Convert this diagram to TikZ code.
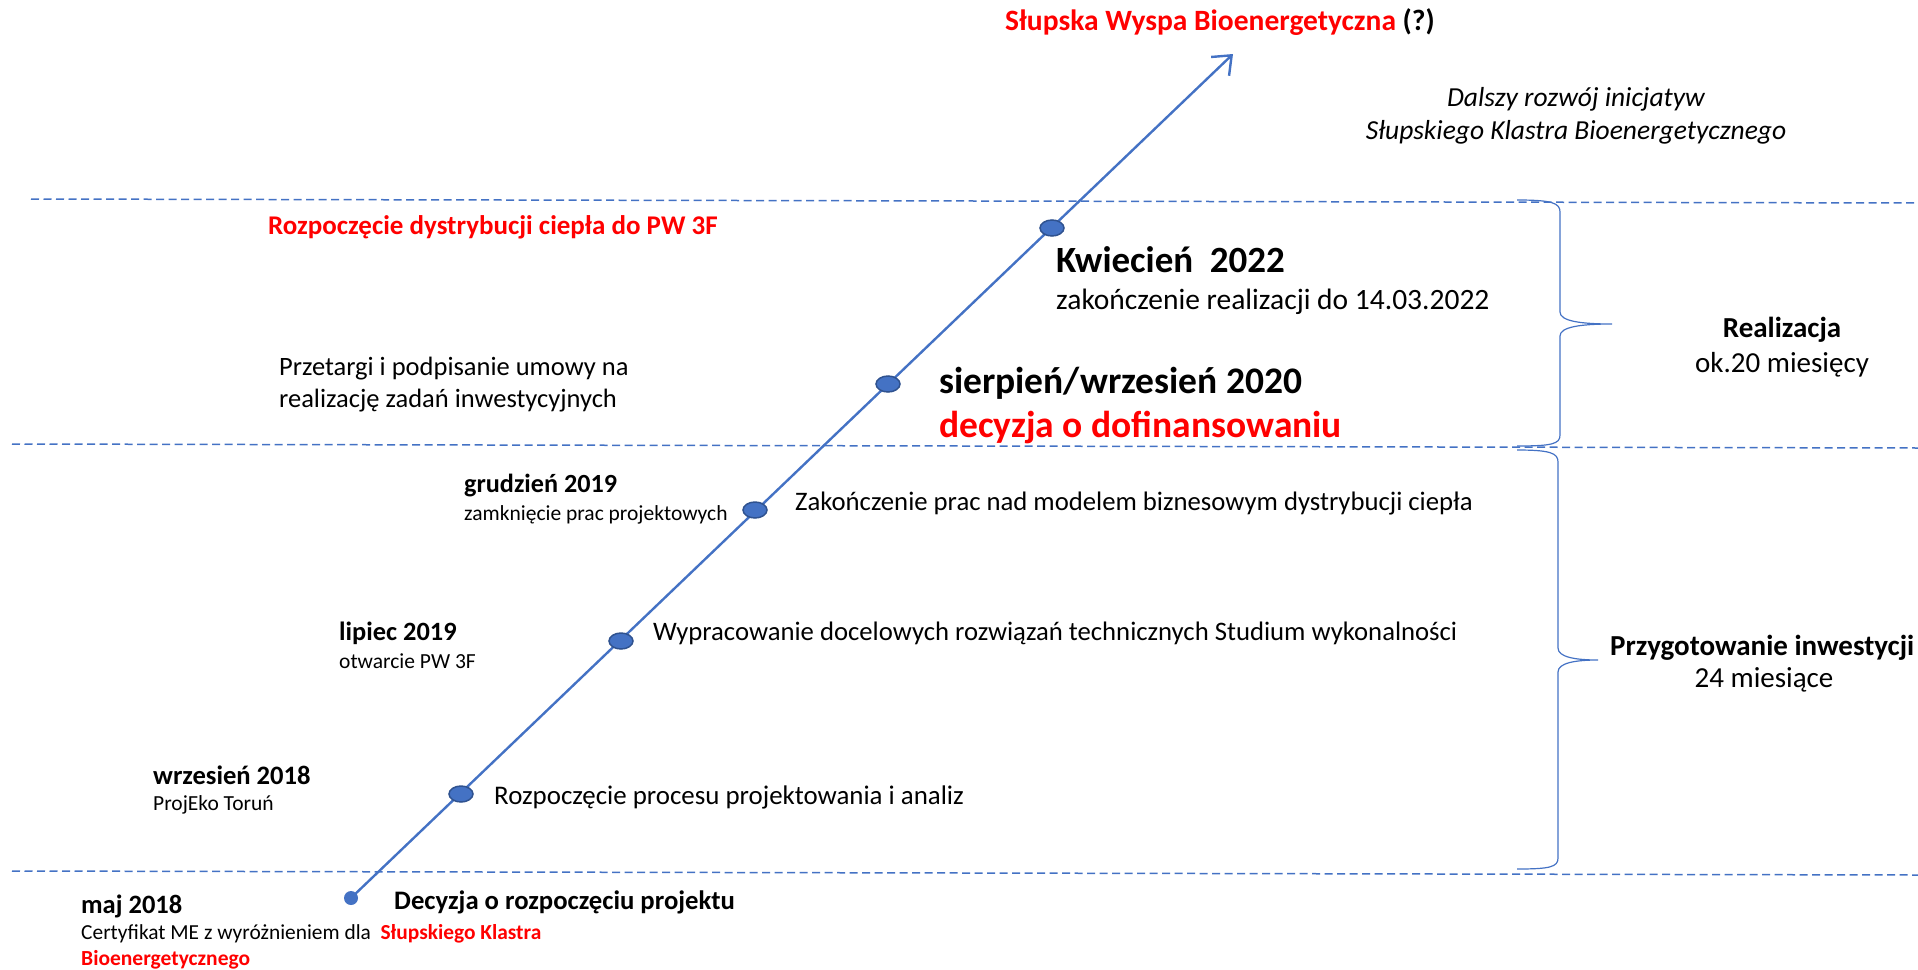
\documentclass[tikz,border=0pt]{standalone}
\usepackage{fontspec}
\setmainfont{Carlito}
\usetikzlibrary{arrows.meta,shapes.geometric}
\definecolor{blu}{HTML}{4472C4}
\definecolor{blud}{HTML}{2F528F}
\definecolor{rd}{HTML}{FF0000}
\newcommand{\fs}[1]{\fontsize{#1}{#1}\selectfont}
\tikzset{
  txt/.style={inner sep=0pt, anchor=base west},
  ctxt/.style={inner sep=0pt, anchor=base},
  tline/.style={draw=blu, line width=2.4pt},
  dotnode/.style={ellipse, draw=blud, fill=blu, line width=1.5pt, minimum width=24pt, minimum height=16pt, inner sep=0pt},
  startdot/.style={circle, fill=blu, minimum size=14pt, inner sep=0pt},
  sep/.style={draw=blu, line width=1.5pt, dash pattern=on 8pt off 4.5pt},
  brace/.style={draw=blu, line width=1.2pt}
}
\begin{document}
\begin{tikzpicture}[x=1pt,y=-1pt]
\useasboundingbox (0,0) rectangle (1918,969);
% separators
\coordinate (l1a) at (31,199); \coordinate (l1b) at (1918,203);
\coordinate (l2a) at (12,444); \coordinate (l2b) at (1918,448);
\coordinate (l3a) at (12,871); \coordinate (l3b) at (1918,875);
\draw[sep] (l1a) -- (l1b);
\draw[sep] (l2a) -- (l2b);
\draw[sep] (l3a) -- (l3b);
% braces
\draw[brace] (1517,200) .. controls (1552,200) and (1560,203) .. (1560,212) -- (1560,312) .. controls (1560,321) and (1580,324) .. (1612,324) .. controls (1580,324) and (1560,327) .. (1560,336) -- (1560,435) .. controls (1560,444) and (1552,446) .. (1517,446);
\draw[brace] (1517,450) .. controls (1550,450) and (1558,453) .. (1558,462) -- (1558,648) .. controls (1558,657) and (1575,660) .. (1598,660) .. controls (1575,660) and (1558,663) .. (1558,672) -- (1558,858) .. controls (1558,867) and (1550,869) .. (1517,869);
% timeline
\node[startdot] (s) at (351,898) {};
\coordinate (tip) at (1233,54);
\draw[tline, -{Straight Barb[length=16pt,width=26pt,line width=2.4pt]}] (s.center) -- (tip);
\node[dotnode] (d1) at (461,794) {};
\node[dotnode] (d2) at (621,641) {};
\node[dotnode] (d3) at (755,510) {};
\node[dotnode] (d4) at (888,384) {};
\node[dotnode] (d5) at (1052,228) {};
% top texts
\node[txt, font=\fs{29.5}\bfseries, text=rd] (title) at (1005,30) {Słupska Wyspa Bioenergetyczna \textcolor{black}{(?)}};
\node[ctxt, font=\fs{27.5}\itshape] (dal1) at (1576,106) {Dalszy rozwój inicjatyw};
\node[ctxt, font=\fs{27.5}\itshape] (dal2) at (1576,139) {Słupskiego Klastra Bioenergetycznego};
% realizacja band
\node[txt, font=\fs{27}\bfseries, text=rd] (rozp) at (268,234) {Rozpoczęcie dystrybucji ciepła do PW 3F};
\node[txt, font=\fs{37}\bfseries] (kw) at (1056,272) {Kwiecień\ \ 2022};
\node[txt, font=\fs{29.5}] (zak) at (1056,309) {zakończenie realizacji do 14.03.2022};
\node[txt, font=\fs{26.5}] (prz1) at (279,375) {Przetargi i podpisanie umowy na};
\node[txt, font=\fs{26.5}] (prz2) at (279,407) {realizację zadań inwestycyjnych};
\node[txt, font=\fs{37.5}\bfseries] (sie) at (939,393) {sierpień/wrzesień 2020};
\node[txt, font=\fs{37.5}\bfseries, text=rd] (dec) at (939,437) {decyzja o dofinansowaniu};
\node[ctxt, font=\fs{29}\bfseries] (real) at (1782,337) {Realizacja};
\node[ctxt, font=\fs{29}] (real2) at (1782,372) {ok.20 miesięcy};
% przygotowanie band
\node[txt, font=\fs{26.2}\bfseries] (gru) at (464,492) {grudzień 2019};
\node[txt, font=\fs{21.5}] (gru2) at (464,520) {zamknięcie prac projektowych};
\node[txt, font=\fs{26.7}] (zakp) at (795,510) {Zakończenie prac nad modelem biznesowym dystrybucji ciepła};
\node[txt, font=\fs{26.4}\bfseries] (lip) at (339,640) {lipiec 2019};
\node[txt, font=\fs{21.5}] (lip2) at (339,668) {otwarcie PW 3F};
\node[txt, font=\fs{26.7}] (wyp) at (653,640) {Wypracowanie docelowych rozwiązań technicznych Studium wykonalności};
\node[txt, font=\fs{26.6}\bfseries] (wrz) at (153,784) {wrzesień 2018};
\node[txt, font=\fs{21.5}] (wrz2) at (153,810) {ProjEko Toruń};
\node[txt, font=\fs{26.9}] (rpp) at (494,804) {Rozpoczęcie procesu projektowania i analiz};
\node[txt, font=\fs{29}\bfseries] (prz) at (1610,655) {Przygotowanie inwestycji};
\node[ctxt, font=\fs{29}] (prz3) at (1764,687) {24 miesiące};
% bottom
\node[txt, font=\fs{26.5}\bfseries] (maj) at (81,913) {maj 2018};
\node[txt, font=\fs{21.4}] (cert) at (81,939) {Certyfikat ME z wyróżnieniem dla\ \ \textcolor{rd}{\bfseries Słupskiego Klastra}};
\node[txt, font=\fs{21.5}\bfseries, text=rd] (bio) at (81,965) {Bioenergetycznego};
\node[txt, font=\fs{26.7}\bfseries] (decr) at (394,909) {Decyzja o rozpoczęciu projektu};
\end{tikzpicture}
\end{document}
